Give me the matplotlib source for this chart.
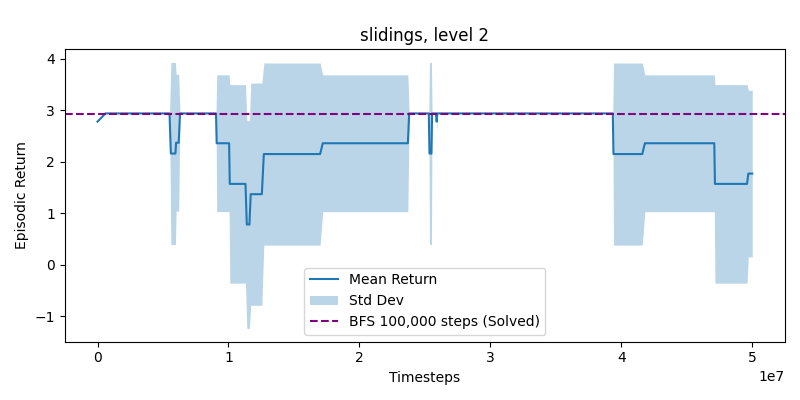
import matplotlib
matplotlib.use("Agg")
import numpy as np
import matplotlib.pyplot as plt

# timesteps (in millions) where the mean / std curves change
steps_m = [0.0, 0.6, 5.5, 5.6, 5.95, 6.0, 6.2, 6.3,
           9.05, 9.1, 10.05, 10.1, 11.3, 11.4, 11.6, 11.7, 12.55, 12.7,
           17.0, 17.2, 23.7, 23.8, 25.3, 25.35, 25.5, 25.55,
           25.85, 25.9, 25.95, 39.35, 39.4, 41.6, 41.8, 47.1, 47.15,
           49.6, 49.7, 50.0]
mean_return = [2.78, 2.94, 2.94, 2.16, 2.16, 2.37, 2.37, 2.94,
               2.94, 2.36, 2.36, 1.57, 1.57, 0.78, 0.78, 1.37, 1.37, 2.15,
               2.15, 2.36, 2.36, 2.94, 2.94, 2.16, 2.16, 2.94,
               2.94, 2.78, 2.94, 2.94, 2.15, 2.15, 2.36, 2.36, 1.57,
               1.57, 1.77, 1.77]
std_return = [0.0, 0.0, 0.0, 1.77, 1.77, 1.33, 1.33, 0.0,
              0.0, 1.33, 1.33, 1.93, 1.93, 2.02, 2.02, 2.16, 2.16, 1.77,
              1.77, 1.33, 1.33, 0.0, 0.0, 1.77, 1.77, 0.0,
              0.0, 0.2, 0.0, 0.0, 1.77, 1.77, 1.33, 1.33, 1.93,
              1.93, 1.62, 1.62]
bfs_return = 2.93

x = np.array(steps_m) * 1e6
mean = np.array(mean_return)
std = np.array(std_return)

fig, ax = plt.subplots(figsize=(8, 4), dpi=100)
ax.plot(x, mean, color="tab:blue", label="Mean Return")
ax.fill_between(x, mean - std, mean + std, color="tab:blue", alpha=0.3,
                linewidth=0, label="Std Dev")
ax.axhline(bfs_return, color="purple", linestyle="--",
           label="BFS 100,000 steps (Solved)")
ax.set_title("slidings, level 2")
ax.set_xlabel("Timesteps")
ax.set_ylabel("Episodic Return")
ax.legend(loc="lower center")
fig.tight_layout()
fig.subplots_adjust(top=0.877)
fig.savefig("out.png")
